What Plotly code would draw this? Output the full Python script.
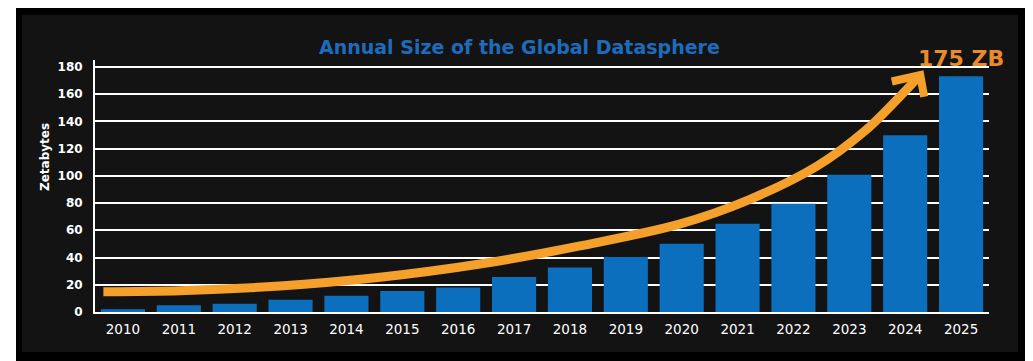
import plotly.graph_objects as go

# ---- data ----
years = [2010, 2011, 2012, 2013, 2014, 2015, 2016, 2017, 2018, 2019, 2020, 2021, 2022, 2023, 2024, 2025]
zettabytes = [2, 5, 6, 9, 12, 15.5, 18, 25.7, 32.7, 40.3, 50.1, 64.8, 79.5, 100.8, 129.7, 173]
year_labels = [str(y) for y in years]
y_ticks = [0, 20, 40, 60, 80, 100, 120, 140, 160, 180]

# decorative trend arrow (in data units)
arrow_x = [2009.65, 2011.02, 2012.81, 2014.6, 2016.39, 2018.18, 2019.96, 2021.2, 2022.41, 2023.3, 2023.9, 2024.27]
arrow_y = [14.9, 15.6, 19.1, 25.5, 35.2, 48.5, 64.5, 82.3, 106.8, 133.7, 158, 174]
head_x = [2023.76, 2024.27, 2024.34]
head_y = [169.2, 174, 158]

BLUE = "#0b6fbd"
ORANGE = "#f6a02c"
PANEL = "#131313"
FONT = "DejaVu Sans"

fig = go.Figure()
fig.add_trace(go.Bar(x=years, y=zettabytes, width=0.79, marker=dict(color=BLUE, line=dict(width=0)),
                     hoverinfo="x+y", showlegend=False))
fig.add_trace(go.Scatter(x=arrow_x, y=arrow_y, mode="lines",
                         line=dict(color=ORANGE, width=9, shape="spline", smoothing=0.9),
                         hoverinfo="skip", showlegend=False))
fig.add_trace(go.Scatter(x=head_x, y=head_y, mode="lines",
                         line=dict(color=ORANGE, width=8),
                         hoverinfo="skip", showlegend=False))

# page is offset by the 8px body margin
OFF = 8
PAGE_W, PAGE_H = 1033, 361
W, H = PAGE_W - OFF, PAGE_H - OFF
L, R, T, B = 95 - OFF, PAGE_W - 989, 60 - OFF, PAGE_H - 312
pw, ph = W - L - R, H - T - B


def px(x):
    return (x - OFF - L) / pw


def py(y):
    return (H - B - (y - OFF)) / ph


shapes = [
    dict(type="rect", xref="paper", yref="paper", x0=px(OFF), x1=px(16), y0=py(PAGE_H), y1=py(OFF),
         fillcolor="#ffffff", line=dict(width=0), layer="below"),
    dict(type="rect", xref="paper", yref="paper", x0=px(22), x1=px(1018), y0=py(352), y1=py(15),
         fillcolor=PANEL, line=dict(width=0), layer="below"),
]

annotations = [
    dict(text="<b>Annual Size of the Global Datasphere</b>", xref="paper", yref="paper",
         x=px(519), y=py(47), showarrow=False, xanchor="center", yanchor="middle",
         font=dict(family=FONT, size=19, color="#1d6cbc")),
    dict(text="<b>Zetabytes</b>", xref="paper", yref="paper", x=px(45), y=py(157),
         showarrow=False, textangle=-90, xanchor="center", yanchor="middle",
         font=dict(family=FONT, size=12, color="#ffffff")),
    dict(text="<b>175 ZB</b>", xref="paper", yref="paper", x=px(961), y=py(58),
         showarrow=False, xanchor="center", yanchor="middle",
         font=dict(family=FONT, size=22, color="#e98a2c")),
]

fig.update_layout(
    width=W, height=H,
    margin=dict(l=L, r=R, t=T, b=B, pad=0),
    paper_bgcolor="#000000",
    plot_bgcolor="rgba(0,0,0,0)",
    shapes=shapes,
    annotations=annotations,
    bargap=0.21,
    font=dict(family=FONT, color="#ffffff"),
)
fig.update_xaxes(range=[2009.5, 2025.5], tickmode="array", tickvals=years, ticktext=year_labels,
                 showgrid=False, zeroline=False, showline=True, linecolor="#ffffff", linewidth=2,
                 ticks="", ticklabelstandoff=4,
                 tickfont=dict(family=FONT, size=13.5, color="#ffffff"),
                 fixedrange=True)
fig.update_yaxes(range=[0, 185], tickmode="array", tickvals=y_ticks,
                 showgrid=True, gridcolor="#ffffff", gridwidth=2, zeroline=False,
                 showline=True, linecolor="#ffffff", linewidth=2, ticks="",
                 ticklabelstandoff=8,
                 tickfont=dict(family=FONT, size=12, color="#ffffff", weight="bold"),
                 fixedrange=True)

fig.write_html("out.html")
